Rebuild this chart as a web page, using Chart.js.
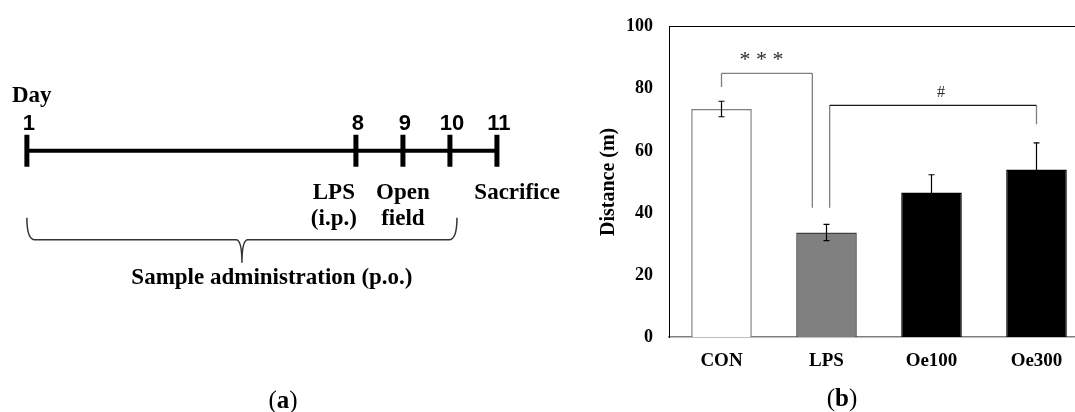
<!DOCTYPE html>
<html>
<head>
<meta charset="utf-8">
<script src="https://cdn.jsdelivr.net/npm/chart.js"></script>
<style>
  html, body { margin: 0; padding: 0; background: #fff; }
  body { width: 1075px; height: 412px; overflow: hidden; position: relative; }
  #wrapA { position: absolute; left: 0; top: 0; width: 590px; height: 412px; }
  #wrapB { position: absolute; left: 590px; top: 0; width: 520px; height: 412px; }
  .cap { position: absolute; font-family: "Liberation Serif", "Times New Roman", serif; font-size: 25px; transform: translate(-50%, -50%); line-height: 1; }
</style>
</head>
<body>
<div id="wrapA"><canvas id="timeline" width="590" height="412"></canvas></div>
<div id="wrapB"><canvas id="distanceChart" width="520" height="412"></canvas></div>
<div class="cap" style="left:283px; top:399px;">(<b>a</b>)</div>
<div class="cap" style="left:842px; top:397px;">(<b>b</b>)</div>
<script>
// (a) experiment timeline
const days = [1, 8, 9, 10, 11];
const dayLabels = ['1', '8', '9', '10', '11'];
const events = [['LPS', '(i.p.)'], ['Open', 'field'], ['Sacrifice']];
const eventAt = [7.53, 9.0, 11.43];
const braceSpan = [1, 10.15];
const braceLabel = 'Sample administration (p.o.)';

// (b) open field distance
const groups = ['CON', 'LPS', 'Oe100', 'Oe300'];
const distance = [73.5, 33.7, 46.6, 54.0];
const distanceErr = [2.5, 2.6, 5.7, 8.6];
const barFill = ['#ffffff', '#808080', '#000000', '#000000'];
const barEdge = ['#7f7f7f', '#404040', '#000000', '#000000'];
const yTicks = [0, 20, 40, 60, 80, 100];

// significance brackets (x in category index, y in metres)
const sigFrom = [0, 1.03];
const sigTo = [0.865, 3.0];
const sigTop = [85, 74.7];
const sigLeftEnd = [80.6, 41.7];
const sigRightEnd = [41.7, 68.6];
const sigText = ['* * *', '#'];
const sigTextAt = [0.38, 2.09];

const serif = '"Liberation Serif", "Times New Roman", serif';
const sans = '"Liberation Sans Narrow", "Liberation Sans", Arial, sans-serif';

const timelineText = {
  id: 'timelineText',
  afterDatasetsDraw(chart) {
    const { ctx, scales: { x, y } } = chart;
    const y0 = y.getPixelForValue(0);
    ctx.save();
    ctx.fillStyle = '#000';
    ctx.textBaseline = 'middle';

    ctx.font = 'bold 23px ' + serif;
    ctx.textAlign = 'left';
    ctx.fillText('Day', 12, y0 - 55);

    ctx.font = 'bold 22px ' + sans;
    ctx.textAlign = 'center';
    days.forEach((d, i) => ctx.fillText(dayLabels[i], x.getPixelForValue(d) + 2, y0 - 27));

    ctx.font = 'bold 23px ' + serif;
    events.forEach((lines, i) => {
      lines.forEach((t, j) => ctx.fillText(t, x.getPixelForValue(eventAt[i]), y0 + 42 + j * 26.6));
    });

    // curly brace
    const x1 = x.getPixelForValue(braceSpan[0]);
    const x2 = x.getPixelForValue(braceSpan[1]);
    const xm = (x1 + x2) / 2;
    const top = y0 + 67, bar = y0 + 89, tip = y0 + 112;
    ctx.strokeStyle = '#333';
    ctx.lineWidth = 1.5;
    ctx.beginPath();
    ctx.moveTo(x1, top);
    ctx.quadraticCurveTo(x1, bar, x1 + 8, bar);
    ctx.lineTo(xm - 6, bar);
    ctx.quadraticCurveTo(xm, bar, xm, tip);
    ctx.moveTo(x2, top);
    ctx.quadraticCurveTo(x2, bar, x2 - 8, bar);
    ctx.lineTo(xm + 6, bar);
    ctx.quadraticCurveTo(xm, bar, xm, tip);
    ctx.stroke();

    ctx.fillText(braceLabel, xm + 30, y0 + 127);
    ctx.restore();
  }
};

new Chart(document.getElementById('timeline'), {
  type: 'scatter',
  data: {
    datasets: [
      {
        data: [{ x: days[0], y: 0 }, { x: days[days.length - 1], y: 0 }],
        showLine: true,
        borderColor: '#000',
        borderWidth: 4,
        pointRadius: 0
      },
      {
        data: days.map(d => ({ x: d, y: 0 })),
        showLine: false,
        pointStyle: 'line',
        rotation: 90,
        pointRadius: 16,
        pointBorderWidth: 5,
        pointBorderColor: '#000',
        pointBackgroundColor: '#000'
      }
    ]
  },
  options: {
    responsive: false,
    animation: false,
    events: [],
    layout: { autoPadding: false, padding: { top: 0, bottom: 110.6, left: 0, right: 0 } },
    plugins: { legend: { display: false }, tooltip: { enabled: false } },
    scales: {
      x: { type: 'linear', display: false, min: 0.428, max: 12.98 },
      y: { display: false, min: -1, max: 1 }
    }
  },
  plugins: [timelineText]
});

const errorBars = {
  id: 'errorBars',
  afterDatasetsDraw(chart) {
    const { ctx, scales: { x, y } } = chart;
    ctx.save();
    ctx.strokeStyle = '#000';
    ctx.lineWidth = 1.2;
    distance.forEach((v, i) => {
      const px = x.getPixelForValue(i);
      const hi = y.getPixelForValue(v + distanceErr[i]);
      const lo = y.getPixelForValue(v - distanceErr[i]);
      ctx.beginPath();
      ctx.moveTo(px, hi); ctx.lineTo(px, lo);
      ctx.moveTo(px - 3, hi); ctx.lineTo(px + 3, hi);
      ctx.moveTo(px - 3, lo); ctx.lineTo(px + 3, lo);
      ctx.stroke();
    });
    ctx.restore();
  }
};

const sigBrackets = {
  id: 'sigBrackets',
  afterDatasetsDraw(chart) {
    const { ctx, scales: { x, y } } = chart;
    ctx.save();
    ctx.lineWidth = 1.3;
    sigFrom.forEach((f, i) => {
      const xa = x.getPixelForValue(f), xb = x.getPixelForValue(sigTo[i]);
      const yt = y.getPixelForValue(sigTop[i]);
      ctx.strokeStyle = '#7f7f7f';
      ctx.beginPath();
      ctx.moveTo(xa, y.getPixelForValue(sigLeftEnd[i])); ctx.lineTo(xa, yt);
      ctx.moveTo(xb, yt); ctx.lineTo(xb, y.getPixelForValue(sigRightEnd[i]));
      ctx.stroke();
      ctx.strokeStyle = i === 0 ? '#7f7f7f' : '#1a1a1a';
      ctx.beginPath();
      ctx.moveTo(xa, yt); ctx.lineTo(xb, yt);
      ctx.stroke();
      ctx.fillStyle = '#2a2a2a';
      ctx.textAlign = 'center';
      ctx.textBaseline = 'middle';
      ctx.font = (i === 0 ? '22px ' : '16px ') + serif;
      ctx.fillText(sigText[i], x.getPixelForValue(sigTextAt[i]), yt - (i === 0 ? 13 : 12));
    });
    ctx.restore();
  }
};

new Chart(document.getElementById('distanceChart'), {
  type: 'bar',
  data: {
    labels: groups,
    datasets: [{
      data: distance,
      backgroundColor: barFill,
      borderColor: barEdge,
      borderWidth: 1.5,
      barPercentage: 0.577,
      categoryPercentage: 1
    }]
  },
  options: {
    responsive: false,
    animation: false,
    events: [],
    layout: { padding: { top: 0, right: 21, bottom: 0, left: 0 } },
    plugins: { legend: { display: false }, tooltip: { enabled: false } },
    scales: {
      x: {
        position: 'bottom',
        grid: { display: false, drawTicks: false },
        border: { color: '#7f7f7f', width: 1.5 },
        ticks: { color: '#000', font: { family: serif, size: 19, weight: 'bold' }, padding: 13 },
        afterFit: s => { s.height = 75; }
      },
      xTop: {
        type: 'category',
        position: 'top',
        grid: { display: false, drawTicks: false },
        border: { color: '#000', width: 1 },
        ticks: { display: false },
        afterFit: s => { s.height = 23; }
      },
      y: {
        min: 0,
        max: 100,
        grid: { display: false, drawTicks: false },
        border: { color: '#000', width: 1 },
        afterBuildTicks: s => { s.ticks = yTicks.map(v => ({ value: v })); },
        ticks: { color: '#000', font: { family: serif, size: 18, weight: 'bold' }, padding: 16 },
        title: {
          display: true,
          text: 'Distance (m)',
          color: '#000',
          font: { family: serif, size: 20, weight: 'bold' },
          padding: { top: 7, bottom: 0 }
        },
        afterFit: s => { s.width = 79; }
      }
    }
  },
  plugins: [errorBars, sigBrackets]
});
</script>
</body>
</html>
